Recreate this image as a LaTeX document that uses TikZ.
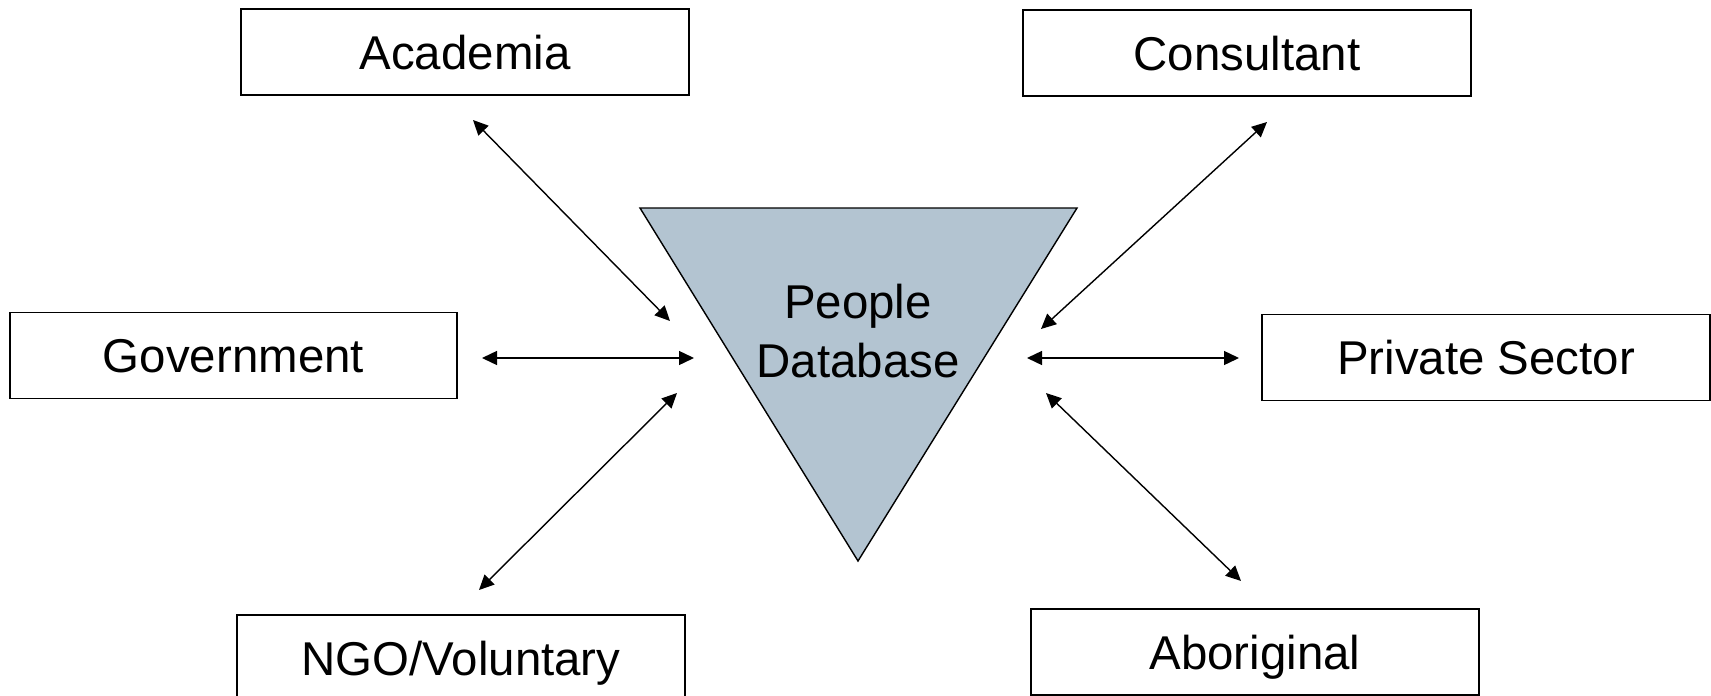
\documentclass[tikz,border=0pt]{standalone}
\usepackage{fontspec}
\setmainfont{Liberation Sans}
\usetikzlibrary{arrows.meta}
\definecolor{dbfill}{RGB}{179,196,209}
\tikzset{
  sector/.style={draw, line width=1.1pt, minimum width=8.96cm, minimum height=1.72cm,
    inner sep=0pt, text height=19.4pt, text depth=0pt, font=\fontsize{27}{33.5}\selectfont},
  link/.style={{Triangle[length=0.3cm,width=0.28cm]}-{Triangle[length=0.3cm,width=0.28cm]},
    line width=0.8pt}
}

\begin{document}
\begin{tikzpicture}[x=0.02cm, y=-0.02cm]
      \useasboundingbox (0,0) rectangle (1711,696);

      \draw [fill=dbfill, line width=0.8pt] (640,208) -- (1077,208) -- (858,561) -- cycle;
      \node [align=center, font=\fontsize{27}{33.5}\selectfont] (db) at (858,331) {People\\Database};

      \node [sector] (acad) at (465,52) {Academia};
      \node [sector] (cons) at (1247,53) {Consultant};
      \node [sector] (gov) at (233.5,355.5) {Government};
      \node [sector] (priv) at (1486,357.5) {Private Sector};
      \node [sector] (ngo) at (461,658) {NGO/Voluntary};
      \node [sector] (abor) at (1255,652) {Aboriginal};

      % ends of the links
      \coordinate (acadA) at (473,120);   \coordinate (acadB) at (670,321);
      \coordinate (consA) at (1267,122);  \coordinate (consB) at (1041,329);
      \coordinate (govA) at (482,358);    \coordinate (govB) at (694,358);
      \coordinate (privA) at (1239,358);  \coordinate (privB) at (1027,358);
      \coordinate (ngoA) at (479,590);    \coordinate (ngoB) at (677,393);
      \coordinate (aborA) at (1241,581);  \coordinate (aborB) at (1046,393);

      \foreach \n in {acad, cons, gov, priv, ngo, abor}
               {
                 \draw [link] (\n A) -- (\n B);
               }
    \end{tikzpicture}
\end{document}
